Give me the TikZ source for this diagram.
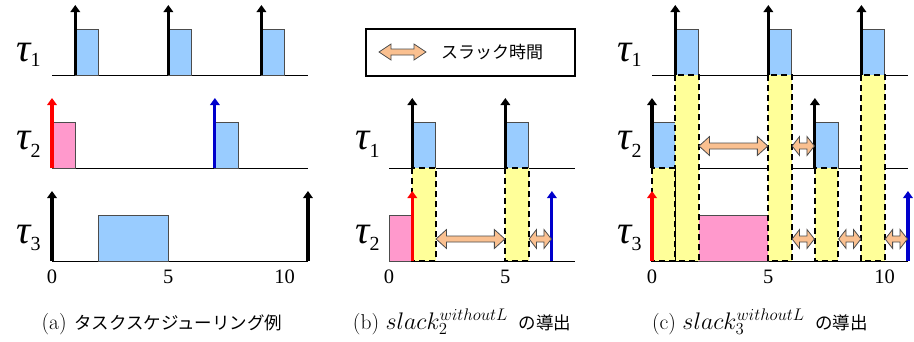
\RequirePackage{fix-cm}
\documentclass[tikz,border=0pt]{standalone}
\usepackage{fontspec}
\newfontfamily\jp{Noto Sans CJK JP}
\newfontfamily\tnr{Liberation Serif}
\usetikzlibrary{arrows.meta}
\definecolor{jobblue}{HTML}{99CCFF}
\definecolor{jobpink}{HTML}{FF99CC}
\definecolor{slackyel}{HTML}{FFFF99}
\definecolor{slackor}{HTML}{FAC090}
\definecolor{relblue}{HTML}{0000CC}
\newcommand{\unitT}{23.27}
\tikzset{
  axisline/.style={draw=black, line width=1pt},
  jobstyle/.style={draw=black!70, line width=1pt},
  yelstyle/.style={fill=slackyel, draw=black, line width=2pt, dash pattern=on 6pt off 4pt},
  relarrow/.style={line width=3.2pt, -{Triangle[length=7pt,width=9.5pt]}},
  slackstyle/.style={fill=slackor, draw=black!70, line width=0.8pt, line join=miter},
  taulab/.style={anchor=base west, inner sep=0pt},
  ticklab/.style={anchor=base, inner sep=0pt, font=\tnr\fontsize{20.5}{21}\selectfont},
  caplab/.style={anchor=base, inner sep=0pt, font=\fontsize{21.5}{24}\selectfont},
}
\newcommand{\taul}[2]{{\tnr\itshape\fontsize{40}{40}\selectfont τ}\raisebox{#2}{\tnr\fontsize{20}{20}\selectfont #1}}
\newcommand{\slackname}[1]{{\fontsize{24}{26}\selectfont$slack_{#1}^{withoutL}$}}
% #1 t0, #2 ta, #3 tb, #4 baseline y, #5 colour
\newcommand{\jobbox}[5]{\filldraw[jobstyle,fill=#5] ({#1+#2*\unitT},#4) rectangle ({#1+#3*\unitT},#4-46);}
% #1 t0, #2 t, #3 baseline y, #4 colour
\newcommand{\release}[4]{\draw[relarrow,#4] ({#1+#2*\unitT},#3) -- ({#1+#2*\unitT},#3-70);}
% #1 t0, #2 ta, #3 tb, #4 y top, #5 y bottom
\newcommand{\yel}[5]{\draw[yelstyle] ({#1+#2*\unitT},#4) rectangle ({#1+#3*\unitT},#5);}
% generic double arrow: #1 xa, #2 xb, #3 y, #4 head length, #5 head half height, #6 shaft half height
\newcommand{\dblarrow}[6]{%
  \filldraw[slackstyle] (#1,#3) -- ({#1+#4},{#3-#5}) -- ({#1+#4},{#3-#6}) -- ({#2-#4},{#3-#6})
    -- ({#2-#4},{#3-#5}) -- (#2,#3) -- ({#2-#4},{#3+#5}) -- ({#2-#4},{#3+#6})
    -- ({#1+#4},{#3+#6}) -- ({#1+#4},{#3+#5}) -- cycle;}
% #1 t0, #2 ta, #3 tb, #4 baseline y
\newcommand{\slackarr}[4]{%
  \pgfmathsetmacro\sxa{#1+#2*\unitT+0.5}\pgfmathsetmacro\sxb{#1+#3*\unitT-0.5}%
  \pgfmathsetmacro\shl{min(10.5,(\sxb-\sxa)/3)}%
  \dblarrow{\sxa}{\sxb}{#4-22}{\shl}{9.5}{3}}
\begin{document}
\begin{tikzpicture}[x=1pt,y=-1pt]
\useasboundingbox (0,0) rectangle (914,341);
\fill[white] (0,0) rectangle (914,341);
% ---------------- panel (a) ----------------
\foreach \yy in {75,168,261} {\draw[axisline] (52,\yy) -- ({52+11*\unitT},\yy);}
\jobbox{52}{1}{2}{75}{jobblue}
\jobbox{52}{5}{6}{75}{jobblue}
\jobbox{52}{9}{10}{75}{jobblue}
\jobbox{52}{0}{1}{168}{jobpink}
\jobbox{52}{7}{8}{168}{jobblue}
\jobbox{52}{2}{5}{261}{jobblue}
\release{52}{1}{75}{black}
\release{52}{5}{75}{black}
\release{52}{9}{75}{black}
\release{52}{0}{168}{red}
\release{52}{7}{168}{relblue}
\release{52}{0}{261}{black}
\release{52}{11}{261}{black}
\node[taulab] (ta1) at (16,61) {\taul{1}{-5pt}};
\node[taulab] (ta2) at (16,149) {\taul{2}{-8pt}};
\node[taulab] (ta3) at (16,243) {\taul{3}{-7pt}};
\node[ticklab] (xa0) at (52,283) {0};
\node[ticklab] (xa5) at ({52+5*\unitT},283) {5};
\node[ticklab] (xa10) at ({52+10*\unitT},283) {10};
\node[caplab] (capa) at (162,329) {(a)\hspace{0.35em}{\jp\fontsize{17.5}{20}\selectfont タスクスケジューリング例}};
% ---------------- panel (b) ----------------
\node[draw, line width=1.5pt, minimum width=209pt, minimum height=47pt, inner sep=0pt] (legend) at (470.5,52.5) {};
\dblarrow{379}{426}{52}{12}{8}{3}
\node[anchor=west, inner sep=0pt, font=\jp\fontsize{17}{20}\selectfont] (legtxt) at (441,52) {スラック時間};
\foreach \yy in {168,261} {\draw[axisline] (389,\yy) -- ({389+8*\unitT},\yy);}
\jobbox{389}{1}{2}{168}{jobblue}
\jobbox{389}{5}{6}{168}{jobblue}
\jobbox{389}{0}{1}{261}{jobpink}
\yel{389}{1}{2}{168}{261}
\yel{389}{5}{6}{168}{261}
\release{389}{1}{168}{black}
\release{389}{5}{168}{black}
\release{389}{1}{261}{red}
\release{389}{7}{261}{relblue}
\slackarr{389}{2}{5}{261}
\slackarr{389}{6}{7}{261}
\node[taulab] (tb1) at (355,149) {\taul{1}{-8pt}};
\node[taulab] (tb2) at (355,243) {\taul{2}{-7pt}};
\node[ticklab] (xb0) at (389,283) {0};
\node[ticklab] (xb5) at ({389+5*\unitT},283) {5};
\node[caplab] (capb) at (462,329) {(b)\hspace{0.3em}\slackname{2}\hspace{0.5em}{\jp\fontsize{17.5}{20}\selectfont の導出}};
% ---------------- panel (c) ----------------
\foreach \yy in {75,168,261} {\draw[axisline] (652,\yy) -- ({652+11*\unitT},\yy);}
\jobbox{652}{1}{2}{75}{jobblue}
\jobbox{652}{5}{6}{75}{jobblue}
\jobbox{652}{9}{10}{75}{jobblue}
\jobbox{652}{0}{1}{168}{jobblue}
\jobbox{652}{7}{8}{168}{jobblue}
\jobbox{652}{2}{5}{261}{jobpink}
\yel{652}{1}{2}{75}{261}
\yel{652}{5}{6}{75}{261}
\yel{652}{9}{10}{75}{261}
\yel{652}{0}{1}{168}{261}
\yel{652}{7}{8}{168}{261}
\release{652}{1}{75}{black}
\release{652}{5}{75}{black}
\release{652}{9}{75}{black}
\release{652}{0}{168}{black}
\release{652}{7}{168}{black}
\release{652}{0}{261}{red}
\release{652}{11}{261}{relblue}
\slackarr{652}{2}{5}{168}
\slackarr{652}{6}{7}{168}
\slackarr{652}{6}{7}{261}
\slackarr{652}{8}{9}{261}
\slackarr{652}{10}{11}{261}
\node[taulab] (tc1) at (617,61) {\taul{1}{-5pt}};
\node[taulab] (tc2) at (617,149) {\taul{2}{-8pt}};
\node[taulab] (tc3) at (617,243) {\taul{3}{-7pt}};
\node[ticklab] (xc0) at (652,283) {0};
\node[ticklab] (xc5) at ({652+5*\unitT},283) {5};
\node[ticklab] (xc10) at ({652+10*\unitT},283) {10};
\node[caplab] (capc) at (760,329) {(c)\hspace{0.3em}\slackname{3}\hspace{0.5em}{\jp\fontsize{17.5}{20}\selectfont の導出}};
\end{tikzpicture}
\end{document}
